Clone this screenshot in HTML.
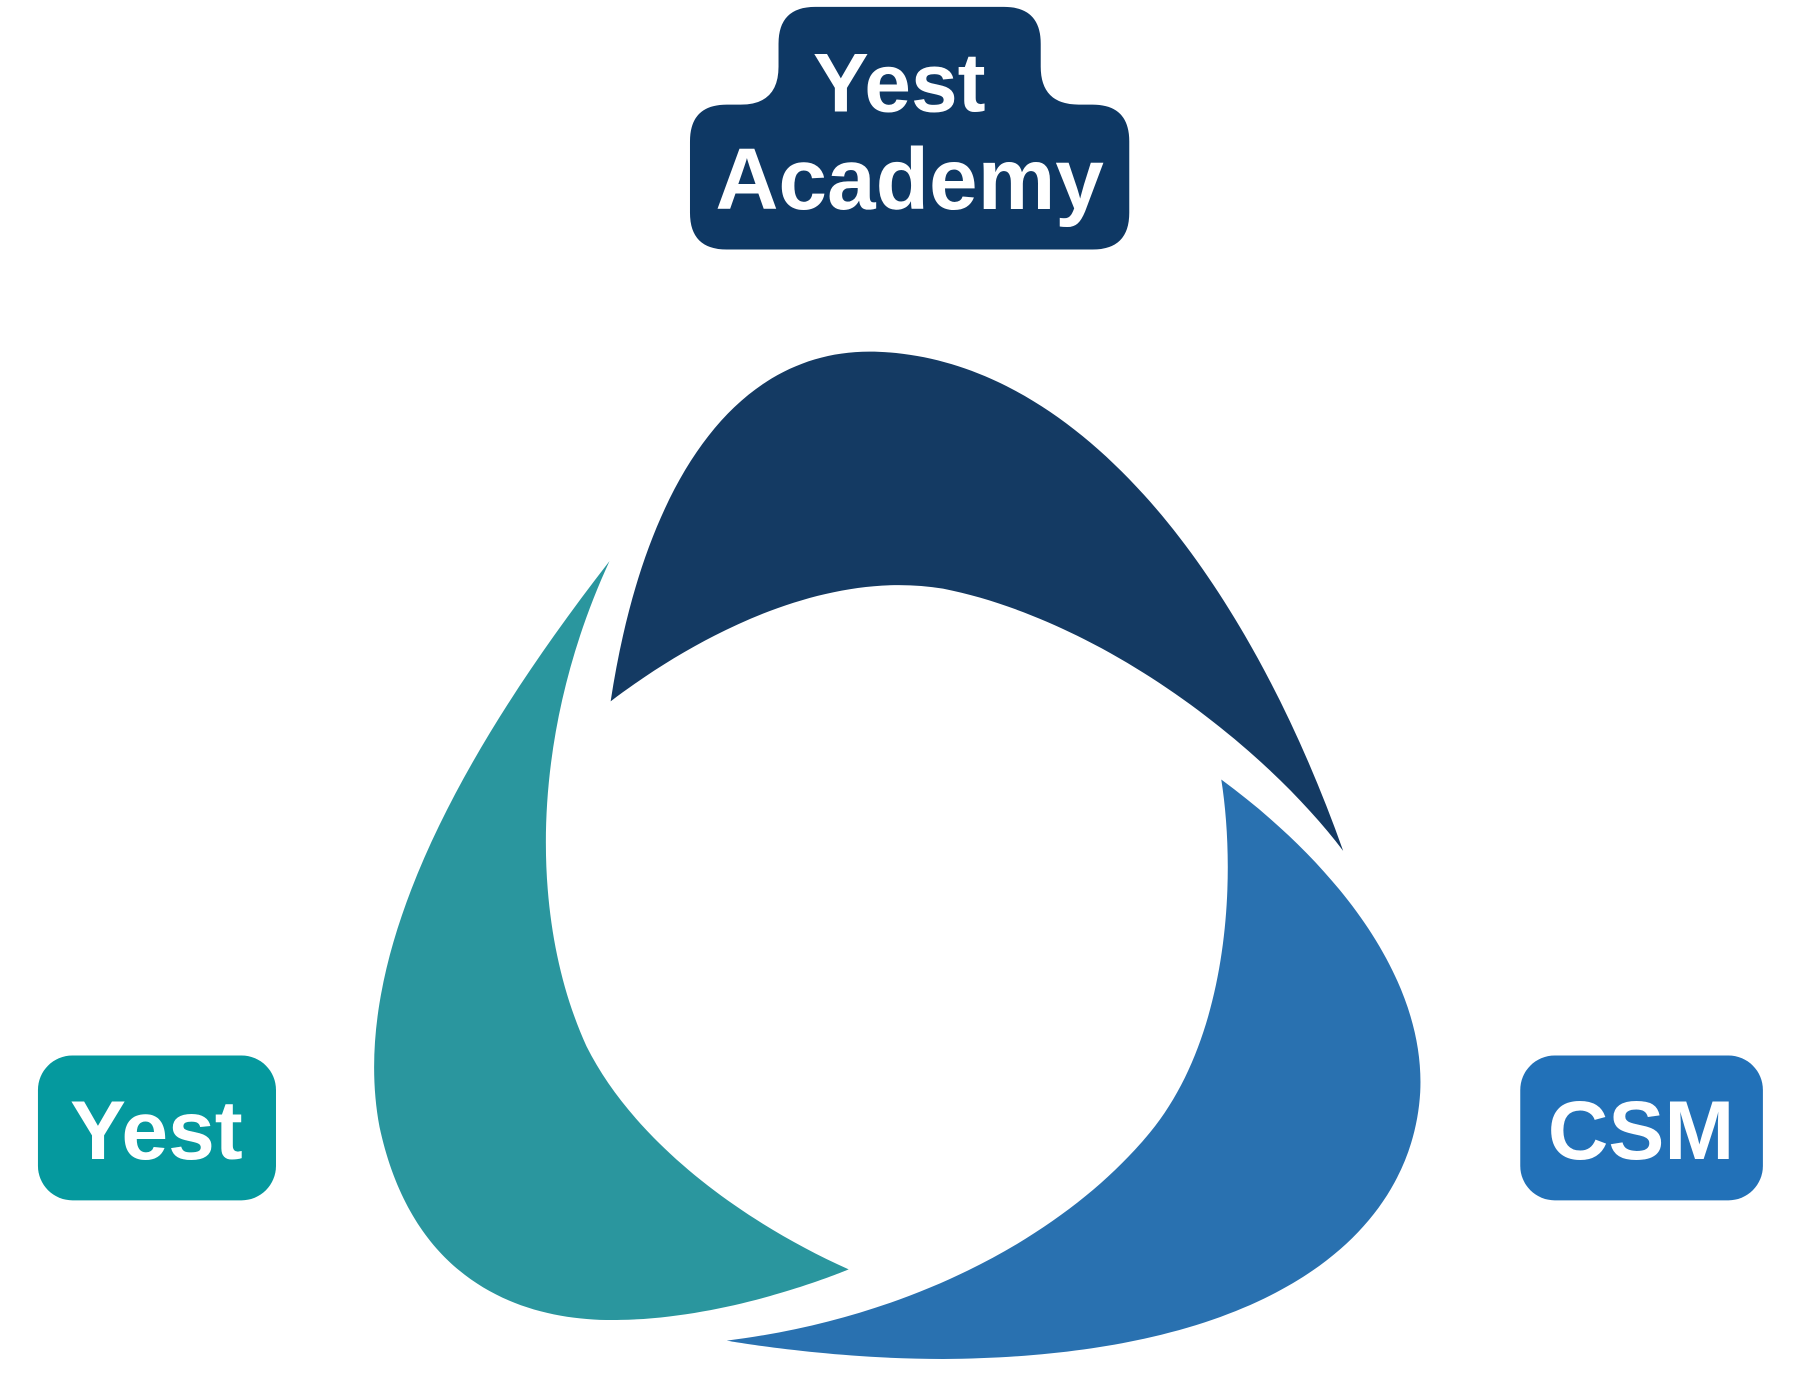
<!DOCTYPE html>
<html><head><meta charset="utf-8"><style>
html,body{margin:0;padding:0;background:#fff;}
svg{display:block;}
text{font-family:"Liberation Sans",sans-serif;font-weight:bold;fill:#fff;}
</style></head><body>
<svg width="1802" height="1382" viewBox="0 0 1567 1202" preserveAspectRatio="none" xmlns="http://www.w3.org/2000/svg">
<rect width="1567" height="1202" fill="#fff"/>
<path fill="#0e3864" d="M709,6 H873 Q905,6 905,38 V58 Q905,91 938,91 H950 Q982,91 982,123 V185 Q982,217 950,217 H632 Q600,217 600,185 V123 Q600,91 632,91 H644 Q677,91 677,58 V38 Q677,6 709,6 Z"/>
<text x="782" y="97" font-size="73" text-anchor="middle">Yest</text>
<text x="791" y="182" font-size="76" text-anchor="middle">Academy</text>
<rect x="33" y="918" width="207" height="126" rx="30" fill="#05999e"/>
<text x="136" y="1008" font-size="73" text-anchor="middle">Yest</text>
<rect x="1322" y="918" width="211" height="126" rx="30" fill="#2271b8"/>
<text x="1427" y="1008" font-size="73" text-anchor="middle">CSM</text>
<path fill="#143a63" d="M531,610 C560,420 640,300 765,306 C950,315 1090,520 1168,740 C1100,650 960,540 820,512 C720,495 610,550 531,610 Z"/>
<path fill="#2a969e" d="M530,488 C420,630 300,820 330,980 C360,1120 460,1150 540,1148 C640,1146 738,1104 738,1104 C640,1060 550,990 510,910 C460,800 460,640 530,488 Z"/>
<path fill="#2971b0" d="M1062,678 C1160,750 1240,850 1235,950 C1228,1070 1110,1180 820,1182 C720,1182 632,1166 632,1166 C800,1145 930,1070 1000,985 C1070,900 1075,760 1062,678 Z"/>
</svg>
</body></html>
